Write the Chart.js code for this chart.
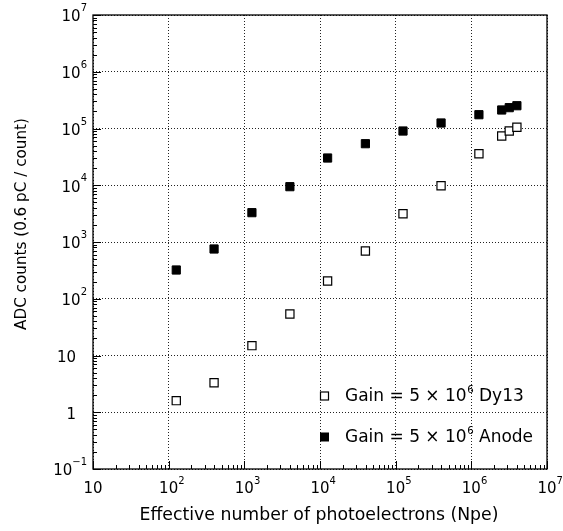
<!DOCTYPE html>
<html>
<head>
<meta charset="utf-8">
<script src="https://cdn.jsdelivr.net/npm/chart.js@4"></script>
<style>
  html, body { margin: 0; padding: 0; background: #fff; overflow: hidden; }
  canvas { display: block; }
</style>
</head>
<body>
<canvas id="adcChart" width="563" height="531"></canvas>
<script>
// values
const npe = [126, 398, 1260, 4000, 12600, 39800, 125000, 398000, 1260000, 2520000, 3170000, 4000000];
const anodeCounts = [321, 753, 3290, 9440, 30200, 54000, 90300, 125000, 175000, 212000, 233000, 252000];
const dy13Counts = [1.6, 3.3, 14.9, 54, 205, 694, 3150, 9820, 36000, 73800, 90300, 105000];

const xDecades = [10, 1e2, 1e3, 1e4, 1e5, 1e6, 1e7];
const yDecades = [0.1, 1, 10, 1e2, 1e3, 1e4, 1e5, 1e6, 1e7];
const xTickLabels = [["10", ""], ["10", "2"], ["10", "3"], ["10", "4"], ["10", "5"], ["10", "6"], ["10", "7"]];
const yTickLabels = [["10", "\u22121"], ["1", ""], ["10", ""], ["10", "2"], ["10", "3"], ["10", "4"], ["10", "5"], ["10", "6"], ["10", "7"]];

const seriesNames = ["Dy13", "Anode"];
const xTitle = "Effective number of photoelectrons (Npe)";
const yTitle = "ADC counts (0.6 pC / count)";

const FONT = "'DejaVu Sans', 'Liberation Sans', sans-serif";

function fitFont(ctx, text, width) {
  ctx.font = "100px " + FONT;
  return 100 * width / ctx.measureText(text).width;
}

// draws "Gain = 5 x 10^6 name" starting at x, returns nothing
function legendText(ctx, x, y, size, name) {
  const head = "Gain = 5 \u00d7 10";
  ctx.font = size.toFixed(1) + "px " + FONT;
  ctx.fillText(head, x, y + 1);
  let tx = x + ctx.measureText(head).width + 0.5;
  ctx.font = (size * 0.6).toFixed(1) + "px " + FONT;
  ctx.fillText("6", tx, y - 6);
  tx += ctx.measureText("6").width;
  ctx.font = size.toFixed(1) + "px " + FONT;
  ctx.fillText(" " + name, tx, y + 1);
}

const framePlugin = {
  id: "rootFrame",
  afterDraw(chart) {
    const { ctx, chartArea: a, scales: { x, y } } = chart;
    ctx.save();
    ctx.strokeStyle = "#000";
    ctx.fillStyle = "#000";

    // frame
    ctx.lineWidth = 1.3;
    ctx.strokeRect(a.left, a.top, a.right - a.left, a.bottom - a.top);

    // ticks drawn inward
    ctx.lineWidth = 1;
    ctx.beginPath();
    for (let i = 0; i < xDecades.length; i++) {
      const px = Math.round(x.getPixelForValue(xDecades[i])) + 0.5;
      ctx.moveTo(px, a.bottom); ctx.lineTo(px, a.bottom - 8);
      if (i < xDecades.length - 1) {
        for (let k = 2; k <= 9; k++) {
          const mx = Math.round(x.getPixelForValue(k * xDecades[i])) + 0.5;
          ctx.moveTo(mx, a.bottom); ctx.lineTo(mx, a.bottom - 4);
        }
      }
    }
    for (let i = 0; i < yDecades.length; i++) {
      const py = Math.round(y.getPixelForValue(yDecades[i])) + 0.5;
      ctx.moveTo(a.left, py); ctx.lineTo(a.left + 8, py);
      if (i < yDecades.length - 1) {
        for (let k = 2; k <= 9; k++) {
          const my = Math.round(y.getPixelForValue(k * yDecades[i])) + 0.5;
          ctx.moveTo(a.left, my); ctx.lineTo(a.left + 4, my);
        }
      }
    }
    ctx.stroke();

    // x tick labels: base centred on the tick, exponent to the right
    ctx.textBaseline = "middle";
    xTickLabels.forEach(([base, exp], i) => {
      const px = x.getPixelForValue(xDecades[i]);
      ctx.font = "15px " + FONT;
      const w = ctx.measureText(base).width;
      ctx.textAlign = "left";
      ctx.fillText(base, px - w / 2, a.bottom + 20);
      if (exp) {
        ctx.font = "10px " + FONT;
        ctx.fillText(exp, px + w / 2, a.bottom + 12);
      }
    });

    // y tick labels
    yTickLabels.forEach(([base, exp], i) => {
      const py = y.getPixelForValue(yDecades[i]) + 1.5;
      if (exp) {
        ctx.font = "10px " + FONT;
        const ew = ctx.measureText(exp).width;
        ctx.textAlign = "left";
        ctx.fillText(exp, a.left - 6 - ew, py - 8);
        ctx.font = "15px " + FONT;
        ctx.textAlign = "right";
        ctx.fillText(base, a.left - 6 - ew, py + 1);
      } else {
        ctx.font = "15px " + FONT;
        ctx.textAlign = "right";
        ctx.fillText(base, a.left - 17, py + 1);
      }
    });

    // axis titles
    ctx.textAlign = "center";
    ctx.font = fitFont(ctx, xTitle, 360).toFixed(1) + "px " + FONT;
    ctx.fillText(xTitle, 319, 516);
    ctx.save();
    ctx.translate(22, 224);
    ctx.rotate(-Math.PI / 2);
    ctx.font = fitFont(ctx, yTitle, 212).toFixed(1) + "px " + FONT;
    ctx.fillText(yTitle, 0, 0);
    ctx.restore();

    // legend
    ctx.textAlign = "left";
    const rows = [
      { y: 396, name: seriesNames[0], filled: false },
      { y: 437, name: seriesNames[1], filled: true }
    ];
    rows.forEach(r => {
      ctx.lineWidth = 1.2;
      if (r.filled) ctx.fillRect(320, r.y - 4.5, 9, 9);
      else ctx.strokeRect(320.5, r.y - 4, 8, 8);
      legendText(ctx, 345, r.y, 17, r.name);
    });

    ctx.restore();
  }
};

function decadeTicks(values) {
  return scale => { scale.ticks = values.map(v => ({ value: v })); };
}

const ctx = document.getElementById("adcChart").getContext("2d");
new Chart(ctx, {
  type: "scatter",
  data: {
    datasets: [
      {
        label: "Gain = 5 x 10^6 Dy13",
        data: npe.map((v, i) => ({ x: v, y: dy13Counts[i] })),
        pointStyle: "rect",
        pointRadius: 5.8,
        borderWidth: 1.2,
        borderColor: "#000",
        backgroundColor: "#fff"
      },
      {
        label: "Gain = 5 x 10^6 Anode",
        data: npe.map((v, i) => ({ x: v, y: anodeCounts[i] })),
        pointStyle: "rect",
        pointRadius: 5.8,
        borderWidth: 1,
        borderColor: "#000",
        backgroundColor: "#000"
      }
    ]
  },
  options: {
    responsive: false,
    animation: false,
    devicePixelRatio: 1,
    layout: { padding: { left: 93, top: 15, right: 16, bottom: 62 } },
    plugins: { legend: { display: false }, tooltip: { enabled: false } },
    scales: {
      x: {
        type: "logarithmic",
        min: 10,
        max: 1e7,
        afterBuildTicks: decadeTicks(xDecades),
        ticks: { display: false },
        grid: { color: "#222", lineWidth: 1, drawTicks: false },
        border: { display: false, dash: [1, 2] }
      },
      y: {
        type: "logarithmic",
        min: 0.1,
        max: 1e7,
        afterBuildTicks: decadeTicks(yDecades),
        ticks: { display: false },
        grid: { color: "#222", lineWidth: 1, drawTicks: false },
        border: { display: false, dash: [1, 2] }
      }
    }
  },
  plugins: [framePlugin]
});
</script>
</body>
</html>
